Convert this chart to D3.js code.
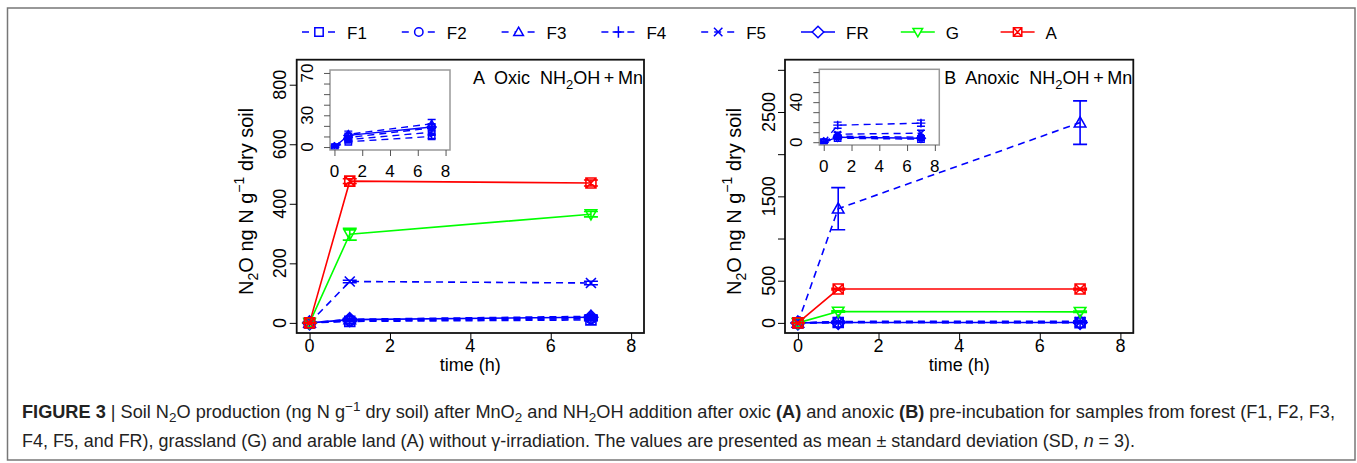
<!DOCTYPE html>
<html>
<head>
<meta charset="utf-8">
<script src="https://cdn.jsdelivr.net/npm/d3@7/dist/d3.min.js"></script>
<style>
  body { margin: 0; background: #fff; }
  svg text { font-family: "Liberation Sans", Arial, sans-serif; }
</style>
</head>
<body>
<div id="chart"></div>
<script>
// N2O production after MnO2 + NH2OH, oxic (A) vs anoxic (B)

const width = 1357
const height = 463

const times = [0, 1, 7]
const seriesNames = ["F1", "F2", "F3", "F4", "F5", "FR", "G", "A"]
const seriesPch = [0, 1, 2, 3, 4, 5, 6, 7]
const seriesColor = ["blue", "blue", "blue", "blue", "blue", "blue", "#00ff00", "red"]
const seriesDashed = [true, true, true, true, true, false, false, false]

// means per series, times 0 / 1 / 7 h
const oxicMeans = [
  [0, 5, 10], [0, 7, 14], [0, 12, 22], [0, 9, 18],
  [0, 139, 134], [0, 11, 19], [0, 298, 365], [0, 476, 470]
]
const oxicSD = [
  [0.5, 1, 2], [0.5, 1.5, 3], [0.5, 3, 4], [0.5, 2, 3],
  [1, 4, 6], [0.5, 2, 3], [1, 20, 9], [1, 8, 10]
]
const anoxicMeans = [
  [0, 4, 3], [0, 6, 5], [0, 1354, 2374], [0, 17, 19],
  [0, 8, 9], [0, 5, 4], [0, 135, 131], [0, 401, 401]
]
const anoxicSD = [
  [0.3, 1, 1], [0.3, 1, 1], [1, 250, 258], [0.5, 3, 3],
  [0.5, 2, 3], [0.3, 1, 1], [1, 8, 8], [1, 10, 10]
]
const oxicInset = ["F1", "F2", "F3", "F4", "FR"]
const anoxicInset = ["F1", "F2", "F4", "F5", "FR"]

const xTicks = [0, 2, 4, 6, 8]
const oxicYTicks = [0, 200, 400, 600, 800]
const oxicYLabels = [0, 200, 400, 600, 800]
const anoxicYTicks = [0, 500, 1000, 1500, 2000, 2500, 3000]
const anoxicYLabels = [0, 500, 1500, 2500]
const insetYTicks = [0, 10, 20, 30, 40, 50, 60, 70]
const oxicInsetLabels = [0, 30, 70]
const anoxicInsetLabels = [0, 40]

const svg = d3.select("#chart").append("svg")
  .attr("width", width)
  .attr("height", height)

// outer frame
svg.append("rect")
  .attr("x", 7.5).attr("y", 8)
  .attr("width", 1347.5).attr("height", 452)
  .attr("fill", "none").attr("stroke", "#777").attr("stroke-width", 1.5)

// R-like plotting symbols
function pchPath(pch, r) {
  const t = r * 1.15
  switch (pch) {
    case 0: return `M${-r},${-r}H${r}V${r}H${-r}Z`
    case 1: return `M${r},0A${r},${r} 0 1 1 ${-r},0A${r},${r} 0 1 1 ${r},0`
    case 2: return `M0,${-t}L${t},${t*0.75}L${-t},${t*0.75}Z`
    case 3: return `M${-t*1.2},0H${t*1.2}M0,${-t*1.2}V${t*1.2}`
    case 4: return `M${-r},${-r}L${r},${r}M${-r},${r}L${r},${-r}`
    case 5: return `M0,${-t*1.2}L${t*1.2},0L0,${t*1.2}L${-t*1.2},0Z`
    case 6: return `M0,${t}L${t},${-t*0.75}L${-t},${-t*0.75}Z`
    case 7: return `M${-r},${-r}H${r}V${r}H${-r}ZM${-r},${-r}L${r},${r}M${-r},${r}L${r},${-r}`
  }
}

// legend
const legend = svg.append("g")
seriesNames.forEach((name, i) => {
  const x0 = 302 + i * 99.8
  const g = legend.append("g").attr("transform", `translate(${x0},32)`)
  g.append("line")
    .attr("x1", 0).attr("x2", 34).attr("y1", 0).attr("y2", 0)
    .attr("stroke", seriesColor[i]).attr("stroke-width", 1.5)
    .attr("stroke-dasharray", seriesDashed[i] ? "7,6" : null)
  g.append("path")
    .attr("transform", "translate(17,0)")
    .attr("d", pchPath(seriesPch[i], 4.2))
    .attr("fill", "white")
    .attr("stroke", seriesColor[i]).attr("stroke-width", 1.5)
  g.append("text")
    .attr("x", 45).attr("y", 6.5)
    .attr("font-size", 17)
    .text(name)
})

let clipId = 0

function drawSeries(g, x, y, means, sds, names, r, cap, lw) {
  const id = "clip" + (clipId++)
  const [x0, x1] = x.range()
  const [y1, y0] = y.range()
  g.append("clipPath").attr("id", id)
    .append("rect").attr("x", x0).attr("y", y0).attr("width", x1 - x0).attr("height", y1 - y0)
  const body = g.append("g").attr("clip-path", `url(#${id})`)
  const line = d3.line().x((d, k) => x(times[k])).y(d => y(d))
  names.forEach(name => {
    const i = seriesNames.indexOf(name)
    const s = body.append("g")
      .attr("stroke", seriesColor[i]).attr("fill", "none").attr("stroke-width", lw)
    s.append("path")
      .attr("d", line(means[i]))
      .attr("stroke-dasharray", seriesDashed[i] ? "7,5" : null)
    means[i].forEach((m, k) => {
      const sd = sds[i][k]
      const cx = x(times[k])
      s.append("path")
        .attr("d", `M${cx},${y(m - sd)}V${y(m + sd)}M${cx - cap},${y(m - sd)}H${cx + cap}M${cx - cap},${y(m + sd)}H${cx + cap}`)
      s.append("path")
        .attr("transform", `translate(${cx},${y(m)})`)
        .attr("d", pchPath(seriesPch[i], r))
    })
  })
}

function rotLabel(g, x, y, txt, size) {
  return g.append("text")
    .attr("transform", `translate(${x},${y}) rotate(-90)`)
    .attr("text-anchor", "middle")
    .attr("font-size", size)
    .text(txt)
}

function drawPanel(cfg) {
  const g = svg.append("g")
  const x = d3.scaleLinear().domain([-0.32, 8.32]).range([cfg.left, cfg.right])
  const y = d3.scaleLinear().domain(cfg.yDomain).range([cfg.bottom, cfg.top])

  drawSeries(g, x, y, cfg.means, cfg.sds, seriesNames, 5, 7, 1.6)

  // box
  g.append("rect")
    .attr("x", cfg.left).attr("y", cfg.top)
    .attr("width", cfg.right - cfg.left).attr("height", cfg.bottom - cfg.top)
    .attr("fill", "none").attr("stroke", "#111").attr("stroke-width", 1.8)

  // axes
  const xAxis = d3.axisBottom(x).tickValues(xTicks).tickSize(7).tickFormat("")
  g.append("g").attr("transform", `translate(0,${cfg.bottom})`).call(xAxis)
    .call(a => a.select(".domain").remove())
  xTicks.forEach(v => {
    g.append("text").attr("x", x(v)).attr("y", 352)
      .attr("text-anchor", "middle").attr("font-size", 18).text(v)
  })
  const yAxis = d3.axisLeft(y).tickValues(cfg.yTicks).tickSize(7).tickFormat("")
  g.append("g").attr("transform", `translate(${cfg.left},0)`).call(yAxis)
    .call(a => a.select(".domain").remove())
  cfg.yLabels.forEach(v => rotLabel(g, cfg.left - 10.5, y(v), v, 18))

  g.append("text")
    .attr("x", (x(0) + x(8)) / 2).attr("y", 371)
    .attr("text-anchor", "middle").attr("font-size", 18)
    .text("time (h)")

  const yl = g.append("text")
    .attr("transform", `translate(${cfg.left - 44},${(cfg.top + cfg.bottom) / 2 + 5}) rotate(-90)`)
    .attr("text-anchor", "middle").attr("font-size", 20)
  yl.append("tspan").text("N")
  yl.append("tspan").attr("font-size", 14).attr("dy", 5).text("2")
  yl.append("tspan").attr("dy", -5).text("O ng N g")
  yl.append("tspan").attr("font-size", 14).attr("dy", -9).text("\u22121")
  yl.append("tspan").attr("dy", 9).text(" dry soil")

  // panel title
  const tt = g.append("text")
    .attr("x", cfg.right - 1).attr("y", 84)
    .attr("text-anchor", "end").attr("font-size", 18)
    .attr("xml:space", "preserve")
  tt.append("tspan").text(cfg.title + "  NH")
  tt.append("tspan").attr("font-size", 13).attr("dy", 5).text("2")
  tt.append("tspan").attr("dy", -5).text("OH\u2009+\u2009Mn")

  // inset
  const ig = g.append("g")
  const ix = d3.scaleLinear().domain([-0.32, 8.32]).range([cfg.inLeft, cfg.inLeft + 120])
  const iy = d3.scaleLinear().domain([-2.8, 72.8]).range([cfg.inBottom, cfg.inTop])
  ig.append("rect")
    .attr("x", cfg.inLeft).attr("y", cfg.inTop)
    .attr("width", 120).attr("height", cfg.inBottom - cfg.inTop)
    .attr("fill", "white")
  drawSeries(ig, ix, iy, cfg.means, cfg.sds, cfg.inset, 3.2, 4, 1.4)
  ig.append("rect")
    .attr("x", cfg.inLeft).attr("y", cfg.inTop)
    .attr("width", 120).attr("height", cfg.inBottom - cfg.inTop)
    .attr("fill", "none").attr("stroke", "#999").attr("stroke-width", 1.5)
  ig.append("g").attr("transform", `translate(0,${cfg.inBottom})`)
    .call(d3.axisBottom(ix).tickValues(xTicks).tickSize(6).tickFormat(""))
    .call(a => a.select(".domain").remove())
    .call(a => a.selectAll("line").attr("stroke", "#555"))
  xTicks.forEach(v => {
    ig.append("text").attr("x", ix(v)).attr("y", cfg.inBottom + 27)
      .attr("text-anchor", "middle").attr("font-size", 17).text(v)
  })
  ig.append("g").attr("transform", `translate(${cfg.inLeft},0)`)
    .call(d3.axisLeft(iy).tickValues(insetYTicks).tickSize(6).tickFormat(""))
    .call(a => a.select(".domain").remove())
    .call(a => a.selectAll("line").attr("stroke", "#555"))
  cfg.inLabels.forEach(v => rotLabel(ig, cfg.inLeft - 17, iy(v), v, 17))
}

drawPanel({
  left: 296.7, right: 644, top: 59.7, bottom: 333,
  yDomain: [-34, 884], yTicks: oxicYTicks, yLabels: oxicYLabels,
  means: oxicMeans, sds: oxicSD, title: "A  Oxic",
  inLeft: 330, inTop: 70, inBottom: 150, inset: oxicInset, inLabels: oxicInsetLabels
})
drawPanel({
  left: 785, right: 1133.3, top: 59.7, bottom: 333,
  yDomain: [-120, 3120], yTicks: anoxicYTicks, yLabels: anoxicYLabels,
  means: anoxicMeans, sds: anoxicSD, title: "B  Anoxic",
  inLeft: 819.3, inTop: 69.3, inBottom: 145, inset: anoxicInset, inLabels: anoxicInsetLabels
})

// caption
const cap = svg.append("g").attr("font-size", 17.5).attr("fill", "#222")
const l1 = cap.append("text").attr("x", 22).attr("y", 418)
  .attr("textLength", 1313).attr("lengthAdjust", "spacingAndGlyphs")
l1.append("tspan").attr("font-weight", "bold").text("FIGURE 3")
l1.append("tspan").text(" | Soil N")
l1.append("tspan").attr("font-size", 13).attr("dy", 4).text("2")
l1.append("tspan").attr("dy", -4).text("O production (ng N g")
l1.append("tspan").attr("font-size", 13).attr("dy", -7).text("\u22121")
l1.append("tspan").attr("dy", 7).text(" dry soil) after MnO")
l1.append("tspan").attr("font-size", 13).attr("dy", 4).text("2")
l1.append("tspan").attr("dy", -4).text(" and NH")
l1.append("tspan").attr("font-size", 13).attr("dy", 4).text("2")
l1.append("tspan").attr("dy", -4).text("OH addition after oxic ")
l1.append("tspan").attr("font-weight", "bold").text("(A)")
l1.append("tspan").text(" and anoxic ")
l1.append("tspan").attr("font-weight", "bold").text("(B)")
l1.append("tspan").text(" pre-incubation for samples from forest (F1, F2, F3,")
const l2 = cap.append("text").attr("x", 22).attr("y", 447)
  .attr("textLength", 1113).attr("lengthAdjust", "spacingAndGlyphs")
l2.append("tspan").text("F4, F5, and FR), grassland (G) and arable land (A) without \u03b3-irradiation. The values are presented as mean \u00b1 standard deviation (SD, ")
l2.append("tspan").attr("font-style", "italic").text("n")
l2.append("tspan").text(" = 3).")
</script>
</body>
</html>
